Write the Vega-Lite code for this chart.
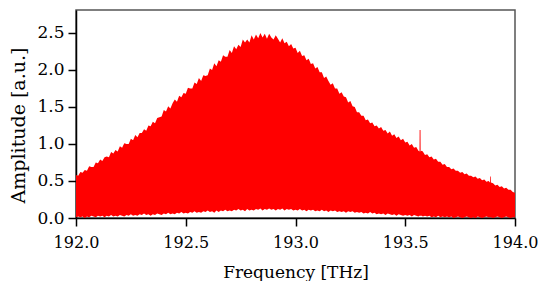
{
  "$schema": "https://vega.github.io/schema/vega-lite/v6.json",
  "width": 439,
  "height": 208,
  "autosize": "none",
  "padding": {"left": 76, "top": 10, "right": 26, "bottom": 63},
  "background": "white",
  "config": {
    "view": {"stroke": "#555555", "strokeWidth": 1.5},
    "font": "DejaVu Serif",
    "axis": {
      "grid": false,
      "domainColor": "black",
      "domainWidth": 1.5,
      "tickColor": "black",
      "tickWidth": 1.5,
      "tickSize": 8,
      "labelFont": "DejaVu Serif",
      "labelFontSize": 16,
      "labelColor": "black",
      "titleFont": "DejaVu Serif",
      "titleFontSize": 17,
      "titleFontWeight": "normal",
      "titleColor": "black",
      "labelOverlap": false,
      "labelFlush": false,
      "labelBound": false
    }
  },
  "data": {
    "values": [
      {"f":192.00,"hi":0.58,"lo":0.01},{"f":192.01,"hi":0.57,"lo":0.02},{"f":192.02,"hi":0.62,"lo":0.01},{"f":192.03,"hi":0.61,"lo":0.02},{"f":192.04,"hi":0.65,"lo":0.00},
      {"f":192.05,"hi":0.64,"lo":0.02},{"f":192.06,"hi":0.70,"lo":0.01},{"f":192.07,"hi":0.69,"lo":0.03},{"f":192.08,"hi":0.69,"lo":0.02},{"f":192.09,"hi":0.75,"lo":0.01},
      {"f":192.10,"hi":0.74,"lo":0.03},{"f":192.11,"hi":0.79,"lo":0.02},{"f":192.12,"hi":0.77,"lo":0.03},{"f":192.13,"hi":0.82,"lo":0.01},{"f":192.14,"hi":0.83,"lo":0.03},
      {"f":192.15,"hi":0.82,"lo":0.02},{"f":192.16,"hi":0.89,"lo":0.04},{"f":192.17,"hi":0.87,"lo":0.02},{"f":192.18,"hi":0.92,"lo":0.03},{"f":192.19,"hi":0.90,"lo":0.02},
      {"f":192.20,"hi":0.97,"lo":0.04},{"f":192.21,"hi":0.95,"lo":0.03},{"f":192.22,"hi":1.01,"lo":0.02},{"f":192.23,"hi":1.00,"lo":0.04},{"f":192.24,"hi":1.00,"lo":0.03},
      {"f":192.25,"hi":1.07,"lo":0.05},{"f":192.26,"hi":1.05,"lo":0.03},{"f":192.27,"hi":1.12,"lo":0.04},{"f":192.28,"hi":1.09,"lo":0.03},{"f":192.29,"hi":1.15,"lo":0.05},
      {"f":192.30,"hi":1.15,"lo":0.04},{"f":192.31,"hi":1.20,"lo":0.06},{"f":192.32,"hi":1.18,"lo":0.04},{"f":192.33,"hi":1.25,"lo":0.05},{"f":192.34,"hi":1.24,"lo":0.03},
      {"f":192.35,"hi":1.30,"lo":0.05},{"f":192.36,"hi":1.28,"lo":0.04},{"f":192.37,"hi":1.35,"lo":0.06},{"f":192.38,"hi":1.36,"lo":0.05},{"f":192.39,"hi":1.37,"lo":0.04},
      {"f":192.40,"hi":1.46,"lo":0.06},{"f":192.41,"hi":1.44,"lo":0.05},{"f":192.42,"hi":1.51,"lo":0.07},{"f":192.43,"hi":1.48,"lo":0.05},{"f":192.44,"hi":1.55,"lo":0.06},
      {"f":192.45,"hi":1.60,"lo":0.05},{"f":192.46,"hi":1.57,"lo":0.07},{"f":192.47,"hi":1.65,"lo":0.06},{"f":192.48,"hi":1.63,"lo":0.08},{"f":192.49,"hi":1.69,"lo":0.06},
      {"f":192.50,"hi":1.68,"lo":0.07},{"f":192.51,"hi":1.76,"lo":0.06},{"f":192.52,"hi":1.75,"lo":0.08},{"f":192.53,"hi":1.75,"lo":0.07},{"f":192.54,"hi":1.83,"lo":0.09},
      {"f":192.55,"hi":1.81,"lo":0.07},{"f":192.56,"hi":1.89,"lo":0.08},{"f":192.57,"hi":1.85,"lo":0.07},{"f":192.58,"hi":1.93,"lo":0.09},{"f":192.59,"hi":1.92,"lo":0.08},
      {"f":192.60,"hi":1.93,"lo":0.10},{"f":192.61,"hi":2.02,"lo":0.08},{"f":192.62,"hi":2.00,"lo":0.09},{"f":192.63,"hi":2.09,"lo":0.07},{"f":192.64,"hi":2.05,"lo":0.10},
      {"f":192.65,"hi":2.13,"lo":0.08},{"f":192.66,"hi":2.11,"lo":0.10},{"f":192.67,"hi":2.20,"lo":0.09},{"f":192.68,"hi":2.18,"lo":0.11},{"f":192.69,"hi":2.18,"lo":0.09},
      {"f":192.70,"hi":2.27,"lo":0.10},{"f":192.71,"hi":2.23,"lo":0.09},{"f":192.72,"hi":2.32,"lo":0.11},{"f":192.73,"hi":2.28,"lo":0.10},{"f":192.74,"hi":2.34,"lo":0.12},
      {"f":192.75,"hi":2.31,"lo":0.10},{"f":192.76,"hi":2.41,"lo":0.11},{"f":192.77,"hi":2.37,"lo":0.09},{"f":192.78,"hi":2.41,"lo":0.12},{"f":192.79,"hi":2.37,"lo":0.10},
      {"f":192.80,"hi":2.47,"lo":0.11},{"f":192.81,"hi":2.41,"lo":0.10},{"f":192.82,"hi":2.48,"lo":0.12},{"f":192.83,"hi":2.43,"lo":0.11},{"f":192.84,"hi":2.50,"lo":0.13},
      {"f":192.85,"hi":2.44,"lo":0.10},{"f":192.86,"hi":2.49,"lo":0.12},{"f":192.87,"hi":2.42,"lo":0.11},{"f":192.88,"hi":2.49,"lo":0.13},{"f":192.89,"hi":2.44,"lo":0.11},
      {"f":192.90,"hi":2.41,"lo":0.12},{"f":192.91,"hi":2.47,"lo":0.10},{"f":192.92,"hi":2.42,"lo":0.12},{"f":192.93,"hi":2.37,"lo":0.11},{"f":192.94,"hi":2.43,"lo":0.13},
      {"f":192.95,"hi":2.36,"lo":0.10},{"f":192.96,"hi":2.38,"lo":0.12},{"f":192.97,"hi":2.32,"lo":0.11},{"f":192.98,"hi":2.35,"lo":0.12},{"f":192.99,"hi":2.29,"lo":0.10},
      {"f":193.00,"hi":2.30,"lo":0.11},{"f":193.01,"hi":2.23,"lo":0.10},{"f":193.02,"hi":2.26,"lo":0.12},{"f":193.03,"hi":2.19,"lo":0.10},{"f":193.04,"hi":2.20,"lo":0.11},
      {"f":193.05,"hi":2.13,"lo":0.09},{"f":193.06,"hi":2.15,"lo":0.11},{"f":193.07,"hi":2.08,"lo":0.10},{"f":193.08,"hi":2.09,"lo":0.11},{"f":193.09,"hi":2.02,"lo":0.09},
      {"f":193.10,"hi":2.04,"lo":0.10},{"f":193.11,"hi":1.97,"lo":0.09},{"f":193.12,"hi":1.97,"lo":0.11},{"f":193.13,"hi":1.89,"lo":0.09},{"f":193.14,"hi":1.91,"lo":0.10},
      {"f":193.15,"hi":1.85,"lo":0.08},{"f":193.16,"hi":1.80,"lo":0.10},{"f":193.17,"hi":1.82,"lo":0.09},{"f":193.18,"hi":1.75,"lo":0.10},{"f":193.19,"hi":1.75,"lo":0.08},
      {"f":193.20,"hi":1.68,"lo":0.09},{"f":193.21,"hi":1.70,"lo":0.08},{"f":193.22,"hi":1.64,"lo":0.09},{"f":193.23,"hi":1.63,"lo":0.07},{"f":193.24,"hi":1.56,"lo":0.09},
      {"f":193.25,"hi":1.58,"lo":0.08},{"f":193.26,"hi":1.51,"lo":0.09},{"f":193.27,"hi":1.50,"lo":0.07},{"f":193.28,"hi":1.43,"lo":0.08},{"f":193.29,"hi":1.43,"lo":0.07},
      {"f":193.30,"hi":1.38,"lo":0.08},{"f":193.31,"hi":1.38,"lo":0.06},{"f":193.32,"hi":1.32,"lo":0.07},{"f":193.33,"hi":1.33,"lo":0.06},{"f":193.34,"hi":1.28,"lo":0.08},
      {"f":193.35,"hi":1.29,"lo":0.06},{"f":193.36,"hi":1.24,"lo":0.07},{"f":193.37,"hi":1.25,"lo":0.05},{"f":193.38,"hi":1.21,"lo":0.06},{"f":193.39,"hi":1.23,"lo":0.05},
      {"f":193.40,"hi":1.18,"lo":0.06},{"f":193.41,"hi":1.19,"lo":0.04},{"f":193.42,"hi":1.14,"lo":0.06},{"f":193.43,"hi":1.17,"lo":0.05},{"f":193.44,"hi":1.11,"lo":0.04},
      {"f":193.45,"hi":1.13,"lo":0.05},{"f":193.46,"hi":1.08,"lo":0.03},{"f":193.47,"hi":1.10,"lo":0.05},{"f":193.48,"hi":1.05,"lo":0.04},{"f":193.49,"hi":1.07,"lo":0.03},
      {"f":193.50,"hi":1.02,"lo":0.04},{"f":193.51,"hi":1.03,"lo":0.03},{"f":193.52,"hi":0.98,"lo":0.04},{"f":193.53,"hi":1.00,"lo":0.02},{"f":193.54,"hi":0.95,"lo":0.04},
      {"f":193.55,"hi":0.96,"lo":0.03},{"f":193.56,"hi":0.91,"lo":0.02},
      {"f":193.565,"hi":0.90,"lo":0.03},{"f":193.5655,"hi":1.19,"lo":0.03},{"f":193.5695,"hi":1.19,"lo":0.03},{"f":193.570,"hi":0.90,"lo":0.03},
      {"f":193.575,"hi":0.91,"lo":0.03},{"f":193.58,"hi":0.90,"lo":0.02},{"f":193.59,"hi":0.85,"lo":0.03},
      {"f":193.60,"hi":0.86,"lo":0.02},{"f":193.61,"hi":0.82,"lo":0.03},{"f":193.62,"hi":0.83,"lo":0.01},{"f":193.63,"hi":0.79,"lo":0.02},{"f":193.64,"hi":0.80,"lo":0.01},
      {"f":193.65,"hi":0.76,"lo":0.03},{"f":193.66,"hi":0.76,"lo":0.01},{"f":193.67,"hi":0.72,"lo":0.02},{"f":193.68,"hi":0.73,"lo":0.01},{"f":193.69,"hi":0.69,"lo":0.02},
      {"f":193.70,"hi":0.69,"lo":0.01},{"f":193.71,"hi":0.66,"lo":0.02},{"f":193.72,"hi":0.67,"lo":0.00},{"f":193.73,"hi":0.64,"lo":0.01},{"f":193.74,"hi":0.64,"lo":0.02},
      {"f":193.75,"hi":0.61,"lo":0.01},{"f":193.76,"hi":0.62,"lo":0.00},{"f":193.77,"hi":0.59,"lo":0.01},{"f":193.78,"hi":0.60,"lo":0.02},{"f":193.79,"hi":0.57,"lo":0.01},
      {"f":193.80,"hi":0.57,"lo":0.00},{"f":193.81,"hi":0.55,"lo":0.01},{"f":193.82,"hi":0.56,"lo":0.00},{"f":193.83,"hi":0.53,"lo":0.02},{"f":193.84,"hi":0.54,"lo":0.01},
      {"f":193.85,"hi":0.51,"lo":0.00},{"f":193.86,"hi":0.52,"lo":0.01},{"f":193.87,"hi":0.49,"lo":0.02},{"f":193.88,"hi":0.50,"lo":0.01},
      {"f":193.886,"hi":0.48,"lo":0.01},{"f":193.8865,"hi":0.56,"lo":0.01},{"f":193.8895,"hi":0.56,"lo":0.01},{"f":193.890,"hi":0.48,"lo":0.01},
      {"f":193.90,"hi":0.47,"lo":0.00},{"f":193.91,"hi":0.44,"lo":0.01},{"f":193.92,"hi":0.45,"lo":0.02},{"f":193.93,"hi":0.42,"lo":0.01},{"f":193.94,"hi":0.43,"lo":0.00},
      {"f":193.95,"hi":0.40,"lo":0.01},{"f":193.96,"hi":0.41,"lo":0.02},{"f":193.97,"hi":0.38,"lo":0.01},{"f":193.98,"hi":0.38,"lo":0.00},{"f":193.99,"hi":0.35,"lo":0.01},
      {"f":194.00,"hi":0.34,"lo":0.01}
    ]
  },
  "mark": {"type": "area", "color": "#ff0000", "opacity": 1, "clip": true, "interpolate": "linear"},
  "encoding": {
    "x": {
      "field": "f", "type": "quantitative",
      "scale": {"domain": [192, 194], "nice": false, "zero": false},
      "axis": {"values": [192, 192.5, 193, 193.5, 194], "format": ".1f", "title": "Frequency [THz]", "labelPadding": 8, "titleY": 59, "titleBaseline": "alphabetic"}
    },
    "y": {
      "field": "hi", "type": "quantitative",
      "scale": {"domain": [0, 2.81], "nice": false, "zero": true},
      "axis": {"values": [0, 0.5, 1, 1.5, 2, 2.5], "format": ".1f", "title": "Amplitude [a.u.]", "labelFontSize": 17, "labelPadding": 4, "titleFontSize": 19, "titleAngle": -90, "titleX": -52, "titleY": 115, "titleAlign": "center", "titleBaseline": "alphabetic"}
    },
    "y2": {"field": "lo"}
  }
}
